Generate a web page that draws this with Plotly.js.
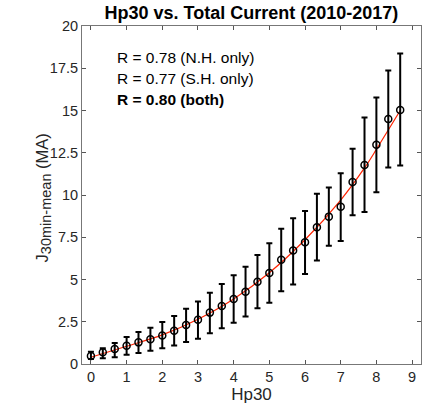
<!DOCTYPE html>
<html>
<head>
<meta charset="utf-8">
<script src="https://cdn.plot.ly/plotly-3.0.1.min.js"></script>
<style>html,body{margin:0;padding:0;background:#fff;}#chart{width:429px;height:404px;}</style>
</head>
<body>
<div id="chart"></div>
<script>
// Hp30 bin centres
const hp30 = [0, 0.333, 0.667, 1, 1.333, 1.667, 2, 2.333, 2.667, 3, 3.333, 3.667, 4, 4.333, 4.667, 5, 5.333, 5.667, 6, 6.333, 6.667, 7, 7.333, 7.667, 8, 8.333, 8.667];
// mean current (MA)
const meanJ = [0.47, 0.69, 0.89, 1.08, 1.28, 1.46, 1.68, 1.97, 2.31, 2.62, 3.04, 3.43, 3.85, 4.28, 4.87, 5.38, 6.17, 6.71, 7.2, 8.09, 8.72, 9.31, 10.77, 11.77, 12.97, 14.5, 15.03];
// upper / lower ends of error bars (MA)
const upperJ = [0.73, 0.93, 1.24, 1.6, 1.89, 2.15, 2.48, 2.84, 3.27, 3.7, 4.22, 4.73, 5.25, 5.76, 6.45, 7.14, 8.0, 8.62, 9.05, 10.07, 10.44, 11.29, 12.74, 14.59, 15.77, 17.37, 18.38];
const lowerJ = [0.3, 0.34, 0.4, 0.55, 0.65, 0.79, 0.93, 1.1, 1.3, 1.5, 1.82, 2.11, 2.44, 2.81, 3.3, 3.63, 4.31, 4.7, 5.33, 6.13, 7.0, 7.28, 8.8, 8.99, 10.16, 11.62, 11.74];
// fitted curve
const fitX = [0, 1, 2, 3, 4, 5, 6, 7, 7.667, 8, 8.333, 8.667];
const fitY = [0.4, 1.05, 1.72, 2.65, 3.85, 5.4, 7.35, 9.7, 11.6, 12.7, 13.85, 15.0];
// annotation texts
const rTexts = ["R = 0.78 (N.H. only)", "R = 0.77 (S.H. only)", "<b>R = 0.80 (both)</b>"];
const rY = [18.15, 16.92, 15.68];
const xTicks = [0,1,2,3,4,5,6,7,8,9];
const yTicks = [0,2.5,5,7.5,10,12.5,15,17.5,20];
const yTickText = ["0","2.5","5","7.5","10","12.5","15","17.5","20"];
const titleText = "Hp30 vs. Total Current (2010-2017)";
const xTitle = "Hp30";
const yTitle = 'J<sub><span style="font-size:14.5px">30min-mean</span></sub> (MA)';

const errPlus = meanJ.map((v,i)=>upperJ[i]-v);
const errMinus = meanJ.map((v,i)=>v-lowerJ[i]);

const font = "Liberation Sans, Arial, Helvetica, sans-serif";
const traces = [
  {x: fitX, y: fitY, type: 'scatter', mode: 'lines', line: {color: '#ff2200', width: 1.2, shape: 'spline'}, hoverinfo: 'skip'},
  {x: hp30, y: meanJ, type: 'scatter', mode: 'markers',
   marker: {symbol: 'circle-open', size: 7, color: '#000', line: {width: 1.5, color: '#000'}},
   error_y: {type: 'data', symmetric: false, array: errPlus, arrayminus: errMinus, color: '#000', thickness: 2, width: 3}}
];
const axisCommon = {showgrid: false, zeroline: false, showline: true, mirror: 'ticks', linecolor: '#777', linewidth: 1,
  ticks: 'inside', ticklen: 4, tickcolor: '#555', tickwidth: 1, tickfont: {family: font, size: 14.5, color: '#262626'}};
const layout = {
  width: 429, height: 404,
  margin: {l: 82, r: 8, t: 26, b: 40},
  paper_bgcolor: '#fff', plot_bgcolor: '#fff',
  showlegend: false,
  font: {family: font, color: '#262626'},
  title: {text: '<b>' + titleText + '</b>', font: {family: font, size: 18, color: '#000'},
    x: 0.586, xanchor: 'center', y: 0.968, yanchor: 'middle'},
  xaxis: Object.assign({}, axisCommon, {range: [-0.25, 9.25], tickvals: xTicks, ticktext: xTicks.map(String),
    title: {text: xTitle, font: {family: font, size: 17, color: '#262626'}, standoff: 0}}),
  yaxis: Object.assign({}, axisCommon, {range: [0, 20], tickvals: yTicks, ticktext: yTickText}),
  annotations: rTexts.map((t,i)=>({x: 0.67, y: rY[i], xref: 'x', yref: 'y', text: t, showarrow: false,
    xanchor: 'left', yanchor: 'middle', font: {family: font, size: 15.5, color: '#000'}})).concat([
    {x: -0.115, y: 0.49, xref: 'paper', yref: 'paper', text: yTitle, textangle: -90, showarrow: false,
     xanchor: 'center', yanchor: 'middle', font: {family: font, size: 16.5, color: '#262626'}}
  ])
};
Plotly.newPlot('chart', traces, layout, {displayModeBar: false, staticPlot: true});
</script>
</body>
</html>
